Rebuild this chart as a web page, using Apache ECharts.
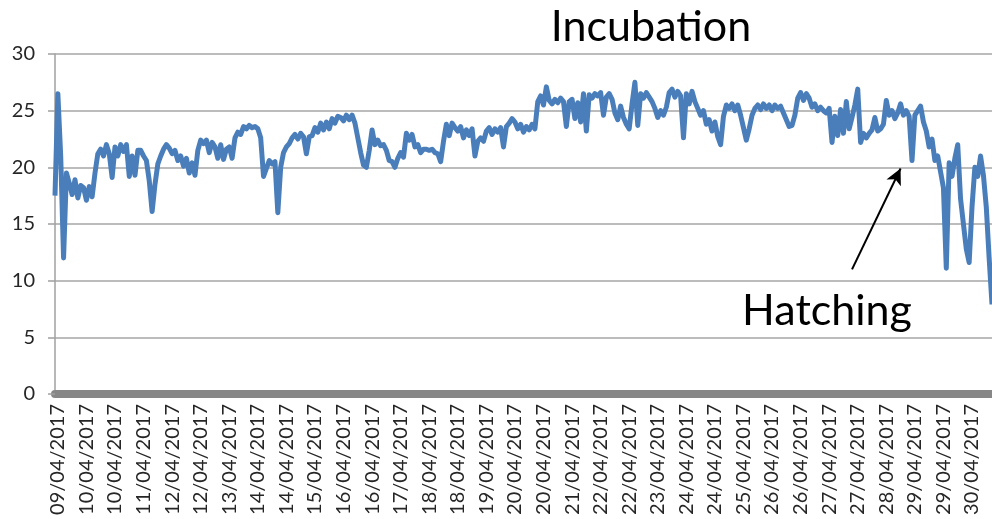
<!DOCTYPE html>
<html>
<head>
<meta charset="utf-8">
<script src="https://cdn.jsdelivr.net/npm/echarts@6/dist/echarts.min.js"></script>
<style>
html,body{margin:0;padding:0;background:#fff;}
#chart{width:992px;height:519px;}
</style>
</head>
<body>
<div id="chart"></div>
<script>
// tick labels shown along the x axis (one every 10 samples)
const tickLabels = ['09/04/2017','10/04/2017','10/04/2017','11/04/2017','12/04/2017','12/04/2017','13/04/2017','14/04/2017','14/04/2017','15/04/2017','16/04/2017','16/04/2017','17/04/2017','18/04/2017','18/04/2017','19/04/2017','20/04/2017','20/04/2017','21/04/2017','22/04/2017','22/04/2017','23/04/2017','24/04/2017','24/04/2017','25/04/2017','26/04/2017','26/04/2017','27/04/2017','27/04/2017','28/04/2017','29/04/2017','29/04/2017','30/04/2017'];
const samplesPerLabel = 10;
const firstLabelIndex = 1;

// temperature samples
const temperature = [
17.5, 26.5, 21, 12, 19.5, 18.6, 17.6, 18.9, 17.3, 18.4,
18.2, 17.1, 18.3, 17.4, 19.5, 21.2, 21.6, 21, 22, 21.2,
19.1, 21.8, 21, 22, 21.4, 22, 19.2, 21, 19.3, 21.5,
21.5, 21, 20.6, 18.8, 16.1, 18.5, 20.3, 21, 21.6, 22,
21.7, 21.2, 21.5, 20.6, 21, 20.1, 20.8, 19.5, 20.4, 19.3,
21.5, 22.4, 22.1, 22.4, 21.3, 22.2, 21.8, 20.8, 22, 20.7,
21.6, 21.8, 20.8, 22.6, 23.1, 22.9, 23.6, 23.4, 23.7, 23.5,
23.6, 23.4, 22.6, 19.2, 19.9, 20.6, 20.3, 20.5, 16, 20,
21.3, 21.8, 22.1, 22.6, 22.9, 22.5, 23, 22.7, 21.2, 22.7,
22.8, 23.5, 23.1, 23.9, 23.3, 24, 23.4, 24.3, 23.9, 24.5,
24.4, 24.1, 24.6, 24.2, 24.6, 23.9, 22.6, 21.3, 20.2, 20,
21.5, 23.3, 22, 22.4, 21.9, 22, 21.5, 20.6, 20.5, 20,
20.8, 21.3, 20.9, 23, 22.4, 22.9, 21.8, 22, 21.3, 21.6,
21.6, 21.5, 21.6, 21.3, 21.2, 20.5, 22.3, 23.8, 22.8, 23.9,
23.5, 23.2, 23.6, 22.6, 23.3, 22.8, 23.4, 21, 22.3, 22.6,
22.3, 23.2, 23.5, 22.9, 23.4, 23.1, 23.5, 21.8, 23.6, 23.9,
24.3, 24, 23.4, 23.8, 23.1, 23.6, 23.3, 23.8, 23.4, 25.8,
26.3, 25.5, 27.1, 25.9, 25.6, 26, 25.7, 26.1, 25.8, 23.6,
25.8, 26, 24.3, 25.7, 24, 26.5, 23.2, 26.4, 26.1, 26.5,
26.3, 26.6, 24.6, 26.2, 26.5, 26, 24.8, 24.2, 25.4, 24.4,
23.8, 23.4, 25.6, 27.5, 23.7, 26.5, 26.1, 26.6, 26.2, 25.8,
25.2, 24.4, 25, 24.6, 25.3, 26.6, 26.9, 26.2, 26.7, 26.3,
22.6, 26.5, 25.6, 26.7, 25.8, 25.2, 24.6, 25, 23.8, 24.2,
23.2, 24, 22.7, 22, 24.5, 25.5, 25.2, 25.6, 25, 25.5,
24.6, 23.5, 22.4, 23.4, 24.6, 25.2, 25.5, 25.1, 25.6, 25.2,
25.5, 25, 25.5, 25.2, 25.4, 24.8, 24.2, 23.6, 23.7, 24.6,
26.1, 26.6, 25.9, 26.5, 26.1, 25.3, 25.6, 25, 25.3, 25,
24.8, 25.2, 22.2, 24.5, 22.8, 25.1, 23, 25.8, 23.4, 24.4,
25.5, 26.9, 22.2, 23, 22.6, 23, 23.3, 24.4, 23.2, 23.4,
23.8, 25.9, 24.6, 25, 24.3, 24.8, 25.6, 24.6, 25, 24.5,
20.6, 24.6, 25, 25.4, 24, 23.2, 21.8, 22.5, 20.6, 21,
19.6, 18.2, 11.1, 20.4, 19.2, 20.8, 22, 17.2, 15, 12.8,
11.6, 16.5, 20, 19.2, 21, 19.3, 16.5, 12, 7.9
];

// y axis
const yMin = 0, yMax = 30, yStep = 5;

// annotation arrow: [sampleIndex, value] tail -> head
const arrowTail = [279, 11];
const arrowHead = [296, 19.9];

const categories = temperature.map(function (v, i) {
  const k = i - firstLabelIndex;
  return (k >= 0 && k % samplesPerLabel === 0 && tickLabels[k / samplesPerLabel]) ? tickLabels[k / samplesPerLabel] : '';
});

const chart = echarts.init(document.getElementById('chart'), null, {renderer: 'canvas'});
const labelFont = 'Lato, "Open Sans", sans-serif';
chart.setOption({
  animation: false,
  backgroundColor: '#ffffff',
  grid: {left: 55, right: 0, top: 54, bottom: 125, containLabel: false, outerBoundsMode: 'none'},
  xAxis: {
    type: 'category',
    data: categories,
    boundaryGap: false,
    axisLine: {show: true, onZero: true, lineStyle: {color: '#878787', width: 8}},
    axisTick: {show: false},
    splitLine: {show: false},
    axisLabel: {
      interval: function (index, value) { return value !== ''; },
      rotate: 90,
      margin: 10,
      fontFamily: labelFont,
      fontSize: 20,
      color: '#262626'
    }
  },
  yAxis: {
    type: 'value',
    min: yMin, max: yMax, interval: yStep,
    axisLine: {show: true, lineStyle: {color: '#a0a0a0', width: 1.5}},
    axisTick: {show: true, length: 7, lineStyle: {color: '#a0a0a0', width: 1.5}},
    splitLine: {show: true, lineStyle: {color: '#a6a6a6', width: 1.5}},
    axisLabel: {margin: 20, fontFamily: labelFont, fontSize: 20, color: '#262626'}
  },
  series: [{
    type: 'line',
    data: temperature,
    showSymbol: false,
    symbol: 'none',
    lineStyle: {color: '#4a7ebb', width: 5, join: 'round'},
    markLine: {
      silent: true,
      symbol: ['none', 'arrow'],
      symbolSize: [12, 16],
      label: {show: false},
      lineStyle: {color: '#000000', width: 2, type: 'solid'},
      emphasis: {disabled: true},
      data: [[{coord: arrowTail}, {coord: arrowHead}]]
    }
  }],
  graphic: [
    {type: 'text', style: {text: 'Incubation', x: 651, y: 27, align: 'center', verticalAlign: 'middle', font: '43px ' + labelFont, fill: '#000000'}},
    {type: 'text', style: {text: 'Hatching', x: 827, y: 311, align: 'center', verticalAlign: 'middle', font: '43px ' + labelFont, fill: '#000000'}}
  ]
});
</script>
</body>
</html>
